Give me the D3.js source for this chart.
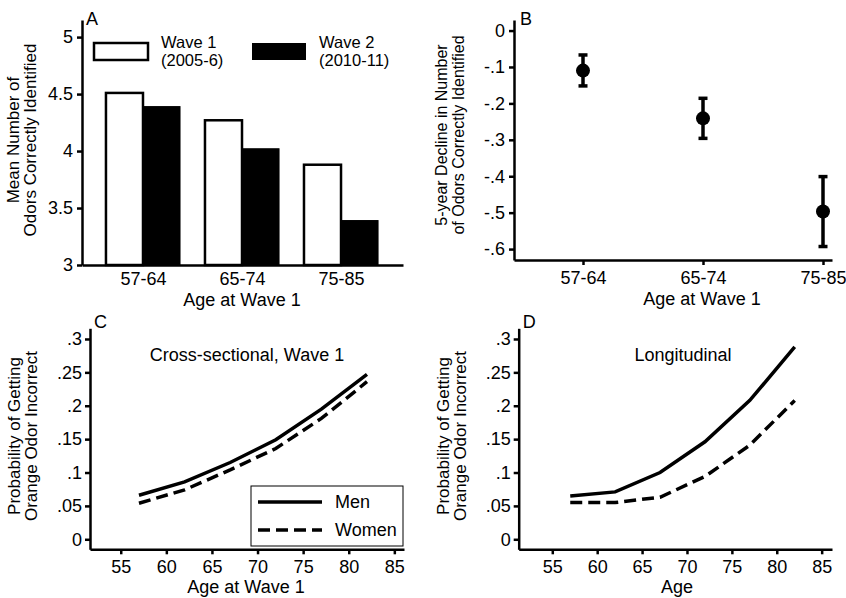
<!DOCTYPE html>
<html><head><meta charset="utf-8">
<script src="https://cdn.jsdelivr.net/npm/d3@7"></script>
<style>
body{margin:0;background:#fff;}
svg{display:block;font-family:"Liberation Sans",Arial,Helvetica,sans-serif;}
.domain{stroke:#000;stroke-width:2.5px;}
.tick line{stroke:#000;stroke-width:2.5px;}
.tick text{fill:#000;font-size:18px;}
</style></head>
<body>
<script>
// ---------- Data ----------
const ageGroups = ["57-64", "65-74", "75-85"];
const wave1Means = [4.51, 4.27, 3.88];
const wave2Means = [4.39, 4.02, 3.39];
const waveLabels = [["Wave 1", "(2005-6)"], ["Wave 2", "(2010-11)"]];
const aTicks = [3, 3.5, 4, 4.5, 5];
const aTickLabels = ["3", "3.5", "4", "4.5", "5"];

const declineEst = [-0.110, -0.241, -0.497];
const declineLo = [-0.152, -0.296, -0.593];
const declineHi = [-0.067, -0.186, -0.401];
const bTicks = [0, -0.1, -0.2, -0.3, -0.4, -0.5, -0.6];
const bTickLabels = ["0", "-.1", "-.2", "-.3", "-.4", "-.5", "-.6"];

const ages = [57, 62, 67, 72, 77, 82];
const crossMen = [0.066, 0.086, 0.115, 0.149, 0.195, 0.247];
const crossWomen = [0.054, 0.074, 0.104, 0.136, 0.181, 0.236];
const longMen = [0.065, 0.071, 0.100, 0.146, 0.208, 0.288];
const longWomen = [0.055, 0.055, 0.063, 0.094, 0.141, 0.208];
const probTicks = [0, 0.05, 0.1, 0.15, 0.2, 0.25, 0.3];
const probTickLabels = ["0", ".05", ".1", ".15", ".2", ".25", ".3"];
const ageTicks = [55, 60, 65, 70, 75, 80, 85];
const sexLabels = ["Men", "Women"];

// ---------- SVG ----------
const svg = d3.select("body").append("svg").attr("width", 846).attr("height", 598);

function label(x, y, txt, size, anchor, rot) {
  const t = svg.append("text").attr("font-size", size).attr("fill", "#000")
    .attr("text-anchor", anchor || "middle").text(txt);
  if (rot) t.attr("transform", `translate(${x},${y}) rotate(-90)`);
  else t.attr("x", x).attr("y", y);
  return t;
}

// ===== Panel A =====
{
  const x = d3.scaleLinear().domain([-0.616, 2.626]).range([82, 403]);
  const y = d3.scaleLinear().domain([3, 5.15]).range([265, 20]);
  const bw = 0.374;
  const g = svg.append("g");
  g.selectAll("rect.w1").data(wave1Means).join("rect")
    .attr("x", (d, i) => x(i - bw)).attr("width", x(bw) - x(0))
    .attr("y", d => y(d)).attr("height", d => y(3) - y(d))
    .attr("fill", "#fff").attr("stroke", "#000").attr("stroke-width", 2.5);
  g.selectAll("rect.w2").data(wave2Means).join("rect")
    .attr("x", (d, i) => x(i)).attr("width", x(bw) - x(0))
    .attr("y", d => y(d)).attr("height", d => y(3) - y(d))
    .attr("fill", "#000").attr("stroke", "#000").attr("stroke-width", 1);
  svg.append("g").attr("transform", "translate(82,0)")
    .call(d3.axisLeft(y).tickValues(aTicks).tickFormat((d, i) => aTickLabels[i]).tickSize(5).tickSizeOuter(0).tickPadding(4));
  svg.append("g").attr("transform", "translate(0,265)")
    .call(d3.axisBottom(x).tickValues([0, 1, 2]).tickFormat((d, i) => ageGroups[i]).tickSize(0).tickSizeOuter(0).tickPadding(7));
  label(242, 306, "Age at Wave 1", 18);
  label(19, 140, "Mean Number of", 17, "middle", true);
  label(36, 140, "Odors Correctly Identified", 17, "middle", true);
  label(86, 25, "A", 18, "start");
  // legend
  svg.append("rect").attr("x", 94).attr("y", 43).attr("width", 54).attr("height", 17)
    .attr("fill", "#fff").attr("stroke", "#000").attr("stroke-width", 2.5);
  svg.append("rect").attr("x", 252).attr("y", 43).attr("width", 54).attr("height", 17)
    .attr("fill", "#000");
  [161, 319].forEach((lx, k) => {
    label(lx, 47.5, waveLabels[k][0], 16.5, "start");
    label(lx, 66, waveLabels[k][1], 16.5, "start");
  });
}

// ===== Panel B =====
{
  const x = d3.scaleLinear().domain([-0.575, 2.075]).range([514, 832]);
  const y = d3.scaleLinear().domain([0.029, -0.63]).range([20, 260]);
  svg.append("g").attr("transform", "translate(514,0)")
    .call(d3.axisLeft(y).tickValues(bTicks).tickFormat((d, i) => bTickLabels[i]).tickSize(5).tickSizeOuter(0).tickPadding(4));
  svg.append("g").attr("transform", "translate(0,260)")
    .call(d3.axisBottom(x).tickValues([0, 1, 2]).tickFormat((d, i) => ageGroups[i]).tickSize(5).tickSizeOuter(0).tickPadding(6));
  const g = svg.append("g");
  declineEst.forEach((d, i) => {
    const cx = x(i);
    g.append("line").attr("x1", cx).attr("x2", cx).attr("y1", y(declineLo[i])).attr("y2", y(declineHi[i]))
      .attr("stroke", "#000").attr("stroke-width", 3.5);
    [declineLo[i], declineHi[i]].forEach(v => {
      g.append("line").attr("x1", cx - 4.5).attr("x2", cx + 4.5).attr("y1", y(v)).attr("y2", y(v))
        .attr("stroke", "#000").attr("stroke-width", 3.5);
    });
    g.append("circle").attr("cx", cx).attr("cy", y(d)).attr("r", 7).attr("fill", "#000");
  });
  label(702, 305, "Age at Wave 1", 18);
  label(447, 135, "5-year Decline in Number", 16, "middle", true);
  label(464, 135, "of Odors Correctly Identified", 16, "middle", true);
  label(520, 25, "B", 18, "start");
}

// ===== Panels C & D =====
function linePanel(ax, xr, men, women, title, titleX, xTitle, xTitleX, letter) {
  const x = d3.scaleLinear().domain(xr).range([ax, ax === 90 ? 404 : 832]);
  const y = d3.scaleLinear().domain([-0.015, 0.316]).range([549.3, 328.3]);
  svg.append("g").attr("transform", `translate(${ax},0)`)
    .call(d3.axisLeft(y).tickValues(probTicks).tickFormat((d, i) => probTickLabels[i]).tickSize(5).tickSizeOuter(0).tickPadding(3));
  svg.append("g").attr("transform", "translate(0,549.3)")
    .call(d3.axisBottom(x).tickValues(ageTicks).tickSize(5).tickSizeOuter(0).tickPadding(6));
  const line = d3.line().x((d, i) => x(ages[i])).y(d => y(d));
  svg.append("path").datum(men).attr("d", line).attr("fill", "none")
    .attr("stroke", "#000").attr("stroke-width", 3.5);
  svg.append("path").datum(women).attr("d", line).attr("fill", "none")
    .attr("stroke", "#000").attr("stroke-width", 3.5).attr("stroke-dasharray", "12,6");
  label(titleX, 361, title, 18);
  label(xTitleX, 593, xTitle, 18);
  label(ax - 70, 436, "Probability of Getting", 17, "middle", true);
  label(ax - 53, 436, "Orange Odor Incorrect", 17, "middle", true);
  label(ax + 4, 328, letter, 18, "start");
}
linePanel(90, [51.63, 86.06], crossMen, crossWomen, "Cross-sectional, Wave 1", 247, "Age at Wave 1", 246, "C");
linePanel(518.7, [51.26, 86.15], longMen, longWomen, "Longitudinal", 683, "Age", 677, "D");

// legend C
{
  svg.append("rect").attr("x", 251).attr("y", 486).attr("width", 152).attr("height", 60)
    .attr("fill", "#fff").attr("stroke", "#000").attr("stroke-width", 1);
  svg.append("line").attr("x1", 258).attr("x2", 322).attr("y1", 502).attr("y2", 502)
    .attr("stroke", "#000").attr("stroke-width", 3.5);
  svg.append("line").attr("x1", 258).attr("x2", 322).attr("y1", 530).attr("y2", 530)
    .attr("stroke", "#000").attr("stroke-width", 3.5).attr("stroke-dasharray", "12,6");
  label(335, 508, sexLabels[0], 18, "start");
  label(335, 536, sexLabels[1], 18, "start");
}
</script>
</body></html>
